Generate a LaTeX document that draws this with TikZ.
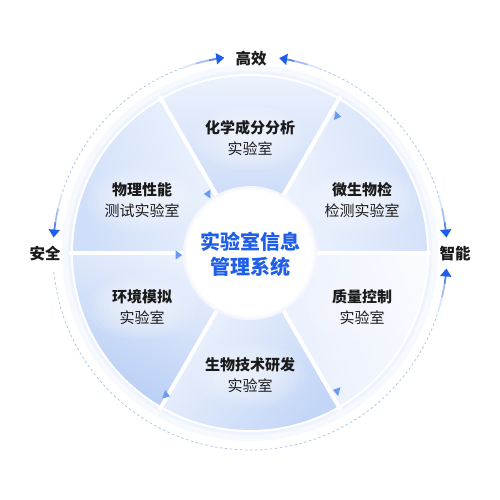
\documentclass[tikz,border=0pt]{standalone}
\usepackage{fontspec}
\setmainfont{Noto Sans CJK SC}
\usetikzlibrary{arrows.meta,shapes.geometric}
\definecolor{mainblue}{HTML}{1E5EE8}
\definecolor{dashblue}{HTML}{A9C3E3}
\definecolor{tribl}{HTML}{6A9BEF}
\definecolor{txt}{HTML}{1A1A1A}
\definecolor{haloA}{HTML}{F6F9FE}
\definecolor{haloB}{HTML}{EEF3FD}
\definecolor{haloC}{HTML}{F3F6FD}
\definecolor{sAt}{HTML}{EEF3FD}\definecolor{sAb}{HTML}{BFD3F6}
\definecolor{sBt}{HTML}{F3F7FE}\definecolor{sBb}{HTML}{D0DFF9}
\definecolor{sCt}{HTML}{F3F7FE}\definecolor{sCb}{HTML}{D2E0F9}
\definecolor{sDt}{HTML}{EEF3FD}\definecolor{sDb}{HTML}{B6CDF5}
\definecolor{sEt}{HTML}{F8FAFE}\definecolor{sEb}{HTML}{E6EEFC}
\definecolor{sFt}{HTML}{F5F8FE}\definecolor{sFb}{HTML}{C3D6F7}
\begin{document}
\begin{tikzpicture}[x=1pt,y=1pt,
  lab/.style={font=\fontsize{15}{21}\selectfont, text=txt, align=center, inner sep=0},
  outerlab/.style={font=\bfseries\fontsize{15.5}{18}\selectfont, text=txt, inner sep=0},
  dashline/.style={draw=dashblue, line width=0.7pt, dash pattern=on 2.5pt off 2.5pt},
  tailA/.style={draw=mainblue!15, line width=1.8pt},
  tailB/.style={draw=mainblue!40, line width=1.8pt},
  tailC/.style={draw=mainblue!75, line width=1.8pt, -{Triangle[length=8pt,width=11pt,color=mainblue]}},
  tri/.style={isosceles triangle, isosceles triangle apex angle=70, fill=tribl, inner sep=0, minimum height=6.5pt, minimum width=7pt},
  glow/.style={fill=white, opacity=0.09}
]
\useasboundingbox (0,0) rectangle (500,500);
\fill[white] (0,0) rectangle (500,500);
\coordinate (C) at (250,247);
% halo
\fill[haloA] (C) circle (188);
\fill[haloB] (C) circle (182);
\fill[white] (C) circle (179);
% sectors
\foreach \a/\b/\ct/\cb/\ang in {60/120/sAt/sAb/0, 120/180/sBt/sBb/-70, 0/60/sCt/sCb/100, 180/240/sDt/sDb/-25, 300/360/sEt/sEb/-70, 240/300/sFt/sFb/50}{
  \shade[top color=\ct, bottom color=\cb, shading angle=\ang]
    (C) -- ++(\a:177) arc[start angle=\a, end angle=\b, radius=177] -- cycle;
}
% soft glow behind labels
\foreach \p in {(250,361.5),(142,300),(362,300),(142,192.5),(362,192.5),(250,124.5)}{
  \foreach \r in {1,0.9,0.8,0.7,0.6,0.5,0.4,0.3}{
    \fill[glow] \p ellipse ({55*\r} and {32*\r});
  }
}
% dividers
\foreach \a in {0,60,...,300}{
  \draw[white, line width=4pt] (C) -- ++(\a:181);
}
% center circle
\fill[haloC] (C) circle (67);
\fill[white!60!haloC] (C) circle (65);
\fill[white] (C) circle (63);
\node[font=\bfseries\fontsize{20}{25}\selectfont, text=mainblue, align=center, inner sep=0] (core) at (250,245.5) {实验室信息\\管理系统};
% sector labels
\node[lab] (chem) at (250,361.5) {{\bfseries 化学成分分析}\\实验室};
\node[lab] (phys) at (142,300) {{\bfseries 物理性能}\\测试实验室};
\node[lab] (micro) at (362,300) {{\bfseries 微生物检}\\检测实验室};
\node[lab] (env) at (142,192.5) {{\bfseries 环境模拟}\\实验室};
\node[lab] (qual) at (362,192.5) {{\bfseries 质量控制}\\实验室};
\node[lab] (bio) at (250,124.5) {{\bfseries 生物技术研发}\\实验室};
% small triangles
\node[tri, rotate=180] (t1) at (208,306) {};
\node[tri, rotate=0] (t2) at (178,245) {};
\node[tri, rotate=-10] (t3) at (337,384) {};
\node[tri, rotate=-20] (t4) at (166,105) {};
\node[tri, rotate=165] (t5) at (337,109) {};
% outer labels
\node[outerlab] (eff) at (251,441) {高效};
\node[outerlab] (safe) at (45,246) {安全};
\node[outerlab] (smart) at (455,246.5) {智能};
% dashed ring
\draw[dashline] ([shift={(175:197)}]C) arc[start angle=175, end angle=98, radius=197];
\draw[dashline] ([shift={(81:197)}]C) arc[start angle=81, end angle=5, radius=197];
\draw[dashline] ([shift={(-5:197)}]C) arc[start angle=-5, end angle=-175, radius=197];
% arrow tails
\draw[tailA] ([shift={(163:197)}]C) arc[start angle=163, end angle=167, radius=197];
\draw[tailB] ([shift={(167:197)}]C) arc[start angle=167, end angle=171, radius=197];
\draw[tailC] ([shift={(171:197)}]C) arc[start angle=171, end angle=175.5, radius=197];
\draw[tailA] ([shift={(110:197)}]C) arc[start angle=110, end angle=106, radius=197];
\draw[tailB] ([shift={(106:197)}]C) arc[start angle=106, end angle=102, radius=197];
\draw[tailC] ([shift={(102:197)}]C) arc[start angle=102, end angle=97.5, radius=197];
\draw[tailA] ([shift={(69:197)}]C) arc[start angle=69, end angle=73, radius=197];
\draw[tailB] ([shift={(73:197)}]C) arc[start angle=73, end angle=77, radius=197];
\draw[tailC] ([shift={(77:197)}]C) arc[start angle=77, end angle=81.5, radius=197];
\draw[tailA] ([shift={(17:197)}]C) arc[start angle=17, end angle=13, radius=197];
\draw[tailB] ([shift={(13:197)}]C) arc[start angle=13, end angle=9, radius=197];
\draw[tailC] ([shift={(9:197)}]C) arc[start angle=9, end angle=4.5, radius=197];
\draw[tailA] ([shift={(-17:197)}]C) arc[start angle=-17, end angle=-13, radius=197];
\draw[tailB] ([shift={(-13:197)}]C) arc[start angle=-13, end angle=-9, radius=197];
\draw[tailC] ([shift={(-9:197)}]C) arc[start angle=-9, end angle=-4.5, radius=197];
\end{tikzpicture}
\end{document}
